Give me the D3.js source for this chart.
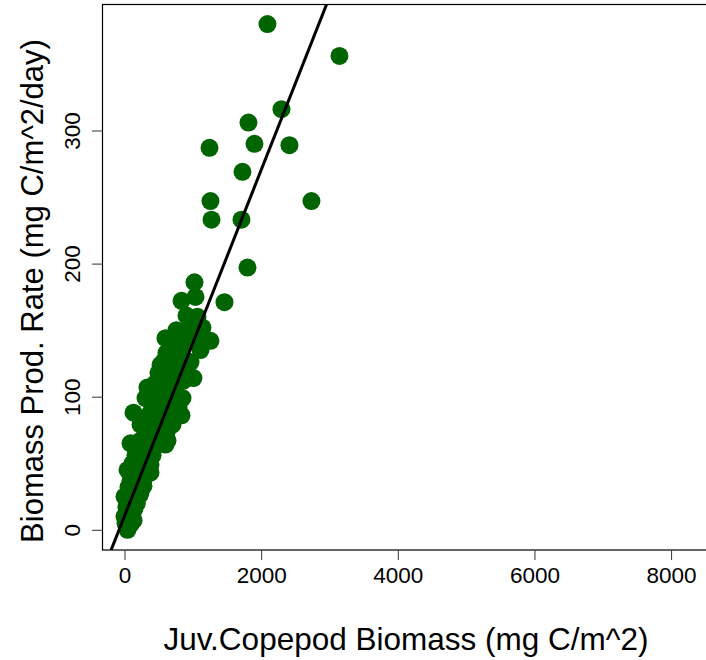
<!DOCTYPE html>
<html>
<head>
<meta charset="utf-8">
<script src="https://cdn.jsdelivr.net/npm/d3@7"></script>
<style>
  html, body { margin: 0; padding: 0; background: #ffffff; }
  svg { display: block; }
  text { font-family: "Liberation Sans", Arial, sans-serif; fill: #000; }
</style>
</head>
<body>
<svg id="chart" width="706" height="660"></svg>
<script>
// Juvenile copepod biomass (mg C/m^2)
const biomass = [
  2092, 3146, 2297, 1814, 1244, 1902, 2414, 1726, 1258, 2736,
  1273, 1712, 1800, 1463, 1024, 1039, 834, 907, 1068, 1141,
  1258, 966, 600, 673, 819, 1112, 629, 966, 761, 1009,
  497, 336, 527, 702, 849, 834, 673, 454, 307, 132,
  380, 556, 702, 614, 410, 234, 88, 234, 454, 600,
  336, 410, 161, 44, 380, 278, 161, 278, 59, 234,
  0, 146, 219, 29, 146, 0, 132, 44, 88, 15,
  117, 580, 527, 863, 746, 570, 454, 307, 527, 380,
  234, 307, 117, 205, 380, 88, 263, 59, 102, 44,
  161, 761, 922, 1068, 644, 614, 892, 790, 483, 629,
  500, 600, 450, 700, 800, 550, 350, 450, 250, 300,
  200, 100, 180, 70, 250, 520, 680, 900, 760, 850, 1000
];

// Biomass production rate (mg C/m^2/day)
const prodRate = [
  380, 356, 316, 306, 287, 290, 289, 269, 247, 247,
  233, 233, 197, 171, 186, 175, 172, 161, 160, 152,
  142, 145, 144, 135, 133, 135, 125, 126, 120, 114,
  118, 107, 109, 105, 99, 86, 94, 97, 99, 88,
  88, 84, 79, 73, 76, 79, 65, 67, 67, 64,
  58, 56, 56, 45, 43, 46, 39, 33, 32, 28,
  25, 22, 26, 17, 16, 10, 7, 0, 4, 5,
  12, 127, 124, 112, 101, 101, 82, 75, 75, 62,
  56, 50, 50, 45, 49, 37, 37, 22, 15, 11,
  30, 139, 150, 145, 112, 133, 120, 92, 64, 67,
  90, 95, 110, 115, 125, 80, 70, 72, 60, 40,
  35, 25, 20, 8, 50, 70, 88, 140, 150, 142, 155
];

// Axis ticks and limits
const xTicks = [0, 2000, 4000, 6000, 8000];
const yTicks = [0, 100, 200, 300];
const xLimits = [0, 8240];
const yLimits = [0, 379.5];

// Least-squares fit: prodRate = intercept + slope * biomass
const fitIntercept = 10.3;
const fitSlope = 0.13;

const xTitle = "Juv.Copepod Biomass (mg C/m^2)";
const yTitle = "Biomass Prod. Rate (mg C/m^2/day)";

const svg = d3.select("#chart");

const plot = { left: 102, right: 710, top: 4.5, bottom: 550 };

// Extend the limits by 4% on each side
function padded(lim) {
  const p = (lim[1] - lim[0]) * 0.04;
  return [lim[0] - p, lim[1] + p];
}
const xDom = padded(xLimits);
const yDom = padded(yLimits);

const x = d3.scaleLinear().domain(xDom).range([plot.left, plot.right]);
const y = d3.scaleLinear().domain(yDom).range([plot.bottom, plot.top]);

svg.append("defs").append("clipPath").attr("id", "plotClip")
  .append("rect")
  .attr("x", plot.left).attr("y", plot.top)
  .attr("width", plot.right - plot.left).attr("height", plot.bottom - plot.top);

// Points
const pts = biomass.map((b, i) => ({ b, p: prodRate[i] }));
svg.append("g").attr("clip-path", "url(#plotClip)")
  .selectAll("circle").data(pts).join("circle")
  .attr("cx", d => x(d.b))
  .attr("cy", d => y(d.p))
  .attr("r", 9)
  .attr("fill", "#006400");

// Regression line across the plotting region
svg.append("line")
  .attr("clip-path", "url(#plotClip)")
  .attr("x1", x(xDom[0])).attr("y1", y(fitIntercept + fitSlope * xDom[0]))
  .attr("x2", x(xDom[1])).attr("y2", y(fitIntercept + fitSlope * xDom[1]))
  .attr("stroke", "#000").attr("stroke-width", 3);

// Frame
svg.append("rect")
  .attr("x", plot.left + 0.5).attr("y", plot.top)
  .attr("width", plot.right - plot.left).attr("height", plot.bottom - plot.top)
  .attr("fill", "none").attr("stroke", "#000").attr("stroke-width", 1.2);

// X axis
const xAxis = d3.axisBottom(x).tickValues(xTicks).tickSize(10).tickPadding(7)
  .tickFormat(d3.format("d"));
const gx = svg.append("g").attr("transform", `translate(0,${plot.bottom})`).call(xAxis);
gx.select(".domain").remove();
gx.selectAll(".tick line").attr("stroke", "#333");
gx.selectAll(".tick text")
  .attr("font-size", 22.5)
  .attr("font-family", "Liberation Sans, Arial, sans-serif")
  .attr("fill", "#000");

// Y axis (labels parallel to the axis)
const yAxis = d3.axisLeft(y).tickValues(yTicks).tickSize(10).tickFormat(d3.format("d"));
const gy = svg.append("g").attr("transform", `translate(${plot.left},0)`).call(yAxis);
gy.select(".domain").remove();
gy.selectAll(".tick line").attr("stroke", "#333");
gy.selectAll(".tick text")
  .attr("font-size", 22.5)
  .attr("font-family", "Liberation Sans, Arial, sans-serif")
  .attr("fill", "#000")
  .attr("text-anchor", "middle")
  .attr("dy", null)
  .attr("x", null)
  .attr("transform", "translate(-22,0) rotate(-90)");

// Axis titles
svg.append("text")
  .attr("x", (plot.left + plot.right) / 2)
  .attr("y", 650)
  .attr("text-anchor", "middle")
  .attr("font-size", 31.5)
  .text(xTitle);

svg.append("text")
  .attr("transform", "translate(43,291) rotate(-90)")
  .attr("text-anchor", "middle")
  .attr("font-size", 31)
  .text(yTitle);
</script>
</body>
</html>
